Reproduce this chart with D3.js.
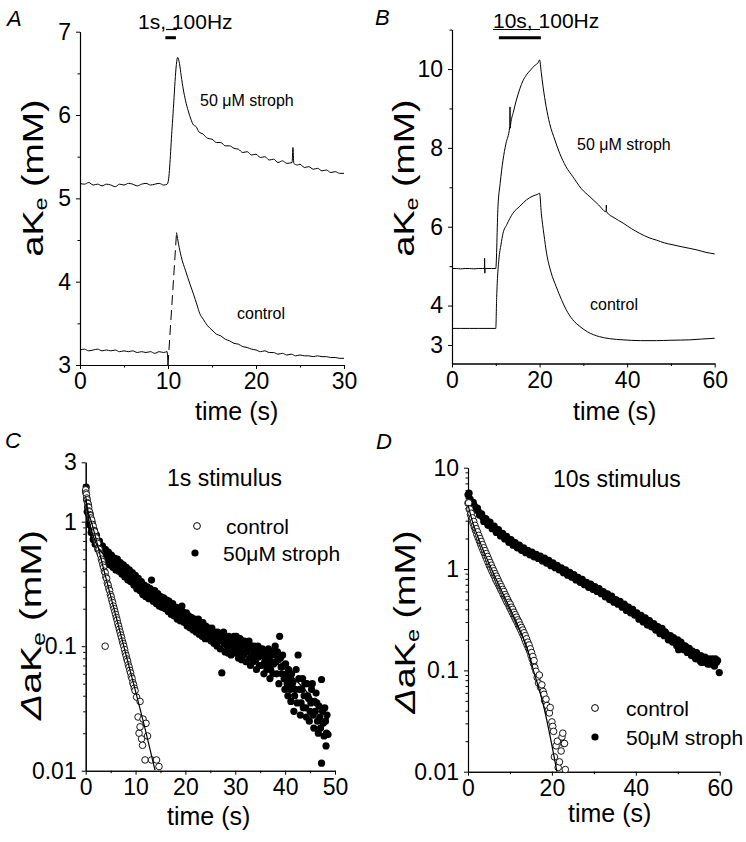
<!DOCTYPE html>
<html><head><meta charset="utf-8">
<script src="https://cdn.jsdelivr.net/npm/d3@7"></script>
<style>
body{margin:0;background:#fff}
svg{display:block}
text{font-family:"Liberation Sans",Arial,Helvetica,sans-serif;fill:#000}
</style>
</head><body>
<svg id="fig" width="746" height="842"></svg>
<script>
// ---------------- DATA ----------------
// Panel A: 1 s, 100 Hz stimulus (time s, aKe mM)
const aStroph = [[0,5.18],[0.5,5.17],[1,5.19],[1.5,5.16],[2,5.17],[2.5,5.15],[3,5.17],[3.5,5.16],[4,5.14],[4.5,5.17],[5,5.16],[5.5,5.18],[6,5.17],[6.5,5.15],[7,5.17],[7.5,5.18],[8,5.16],[8.5,5.17],[9,5.18],[9.5,5.16],[9.9,5.17],[10.05,5.22],[10.5,5.9],[11.1,6.69],[11.3,6.62],[11.5,6.47],[11.75,6.3],[12,6.17],[12.3,6.05],[12.6,5.95],[12.9,5.88],[13.2,5.86],[13.5,5.8],[14,5.77],[14.5,5.72],[15,5.71],[15.5,5.67],[16,5.67],[16.5,5.63],[17,5.63],[17.5,5.6],[18,5.59],[18.5,5.55],[19,5.56],[19.5,5.52],[20,5.53],[20.5,5.49],[21,5.5],[21.5,5.46],[22,5.47],[22.5,5.43],[23,5.45],[23.5,5.42],[24.1,5.43],[24.2,5.61],[24.3,5.42],[24.7,5.4],[25,5.41],[25.5,5.37],[26,5.38],[26.5,5.35],[27,5.36],[27.5,5.33],[28,5.34],[28.5,5.31],[29,5.32],[29.5,5.3],[30,5.3]];
const aControlBase = [[0,3.18],[0.5,3.19],[1,3.17],[1.5,3.18],[2,3.19],[2.5,3.17],[3,3.18],[3.5,3.17],[4,3.18],[4.5,3.16],[5,3.17],[5.5,3.16],[6,3.17],[6.5,3.15],[7,3.16],[7.5,3.15],[8,3.16],[8.5,3.14],[9,3.16],[9.5,3.15],[9.9,3.16],[10,3.0]];
const aControlRise = [[10,3.0],[10.97,4.59]];
const aControlDecay = [[10.97,4.59],[11.2,4.45],[11.5,4.3],[12,4.13],[12.5,3.97],[12.9,3.85],[13.3,3.72],[13.6,3.62],[14,3.55],[14.5,3.47],[15,3.42],[15.5,3.37],[16,3.35],[16.5,3.31],[17,3.29],[17.5,3.26],[18,3.25],[18.5,3.22],[19,3.21],[19.5,3.19],[20,3.18],[20.5,3.16],[21,3.17],[21.5,3.15],[22,3.15],[22.5,3.13],[23,3.14],[23.5,3.12],[24,3.13],[24.5,3.11],[25,3.12],[25.5,3.11],[26,3.11],[26.5,3.1],[27,3.11],[27.5,3.1],[28,3.1],[28.5,3.09],[29,3.09],[29.5,3.08],[30,3.08]];
const aStim = [9.7, 10.9];
const aYTicks = [3,4,5,6,7];
const aYMinor = [3.5,4.5,5.5,6.5];
const aXTicks = [0,10,20,30];
const aXMinor = [5,15,25];

// Panel B: 10 s, 100 Hz stimulus
const bStroph = [[0,4.94],[1,4.94],[2,4.93],[3,4.94],[4,4.94],[5,4.93],[6,4.94],[7,4.94],[7.4,4.94],[7.45,5.2],[7.5,4.82],[7.55,4.94],[8,4.94],[9,4.94],[10,4.94],[10.5,6.51],[11,7.1],[11.65,7.69],[12.3,8.1],[13.2,8.54],[13.25,9.04],[13.3,8.5],[13.4,8.6],[14,8.9],[14.7,9.21],[15.5,9.5],[16.2,9.7],[17,9.85],[18,9.98],[19,10.1],[19.6,10.15],[20,10.23],[20.4,9.9],[20.8,9.55],[21.5,9.05],[22.3,8.62],[23.5,8.2],[24.6,7.86],[26,7.53],[27.6,7.27],[29.5,6.97],[31.5,6.76],[33.5,6.55],[35.2,6.38],[35.25,6.55],[35.3,6.38],[37,6.23],[39.1,6.09],[41,5.95],[42.9,5.83],[45,5.72],[46.7,5.66],[48.5,5.59],[50.5,5.54],[52.5,5.49],[54.3,5.45],[56,5.41],[58,5.35],[60,5.31]];
const bControl = [[0,3.42],[2,3.42],[4,3.42],[6,3.42],[8,3.42],[10,3.42],[10.2,4.2],[10.7,5.16],[11.2,5.55],[11.65,5.83],[12.5,6.05],[13.9,6.34],[15.5,6.52],[17,6.68],[18.5,6.78],[19.5,6.82],[20,6.85],[20.4,6.34],[21,5.8],[21.6,5.33],[22.6,4.85],[23.8,4.48],[25,4.15],[26.1,3.89],[27.5,3.65],[29.2,3.47],[31,3.33],[33.7,3.21],[36,3.16],[39.1,3.13],[43,3.11],[46.7,3.11],[50,3.12],[54.3,3.13],[57,3.15],[60,3.17]];
const bStim = [10.7, 20.3];
const bYTicks = [3,4,6,8,10];
const bYMinor = [5,7,9,11];
const bXTicks = [0,20,40,60];
const bXMinor = [10,30,50];

// Panel C: decay after 1 s stimulus (time s, delta aKe mM, log)
const cControl = [[0,1.8],[0.07,1.7],[0.15,1.65],[0.22,1.55],[0.3,1.5],[0.37,1.42],[0.45,1.4],[0.52,1.32],[0.6,1.3],[0.67,1.22],[0.75,1.2],[0.82,1.14],[0.9,1.12],[0.97,1.06],[1.05,1.07],[1.2,1.03],[1.35,0.95],[1.5,0.92],[1.65,0.85],[1.8,0.83],[1.95,0.76],[2.1,0.74],[2.25,0.69],[2.4,0.67],[2.55,0.61],[2.7,0.6],[2.85,0.56],[3.0,0.54],[3.15,0.5],[3.3,0.48],[3.45,0.45],[3.6,0.43],[3.75,0.4],[3.9,0.39],[3.9,0.1],[4.05,0.36],[4.2,0.35],[4.35,0.32],[4.5,0.31],[4.65,0.29],[4.8,0.28],[4.95,0.26],[5.1,0.25],[5.25,0.235],[5.4,0.224],[5.55,0.21],[5.7,0.2],[5.85,0.19],[6.0,0.18],[6.15,0.17],[6.3,0.162],[6.45,0.152],[6.6,0.145],[6.75,0.137],[6.9,0.13],[7.05,0.123],[7.2,0.117],[7.35,0.11],[7.5,0.105],[7.65,0.1],[7.8,0.094],[7.95,0.088],[8.1,0.084],[8.25,0.079],[8.4,0.076],[8.55,0.071],[8.7,0.068],[8.85,0.064],[9.0,0.061],[9.15,0.057],[9.3,0.055],[9.45,0.051],[9.6,0.049],[9.75,0.046],[9.9,0.044],[10.2,0.039],[10.5,0.027],[10.7,0.02],[10.9,0.036],[10.9,0.0225],[11.2,0.018],[11.4,0.016],[11.5,0.026],[12.1,0.024],[11.9,0.0122],[12.4,0.019],[13.2,0.0122],[14.2,0.0122],[14.7,0.0108]];
const cControlFit = [[0,1.6],[0.4,1.25],[1.2,0.98],[4,0.36],[8,0.088],[12,0.021],[13.9,0.0101]];
const cStroph = [[0,1.75],[0.1,1.9],[0.2,1.5],[0.3,1.2],[0.4,1.3],[0.5,1.35],[0.6,1.15],[0.7,0.95],[0.8,1.05],[0.9,1.15],[1,0.95],[1.1,0.82],[1.2,0.88],[1.3,0.98],[1.4,0.82],[1.5,0.72],[1.6,0.77],[1.7,0.86],[1.8,0.73],[1.9,0.66],[2,0.7],[2.15,0.78],[2.3,0.66],[2.45,0.6],[2.6,0.63],[2.75,0.7],[2.9,0.6],[3.05,0.54],[3.2,0.58],[3.35,0.64],[3.5,0.56],[3.65,0.5],[3.8,0.55],[3.95,0.6],[4.1,0.53],[4.25,0.48],[4.4,0.52],[4.55,0.57],[4.7,0.5],[4.85,0.45],[5,0.49],[5.15,0.54],[5.3,0.48],[5.45,0.43],[5.6,0.47],[5.75,0.51],[5.9,0.46],[6.05,0.41],[6.2,0.46],[6.35,0.5],[6.5,0.44],[6.65,0.4],[6.8,0.44],[6.95,0.47],[7.1,0.43],[7.25,0.38],[7.4,0.41],[7.55,0.45],[7.7,0.42],[7.85,0.36],[8,0.39],[8.15,0.43],[8.3,0.4],[8.45,0.34],[8.6,0.37],[8.75,0.41],[8.9,0.38],[9.05,0.33],[9.2,0.36],[9.35,0.39],[9.5,0.35],[9.65,0.31],[9.8,0.35],[9.95,0.37],[10.1,0.33],[10.25,0.29],[10.4,0.32],[10.55,0.35],[10.7,0.33],[10.85,0.28],[11,0.3],[11.15,0.33],[11.3,0.31],[11.45,0.26],[11.6,0.29],[11.75,0.31],[11.9,0.3],[12.05,0.25],[12.2,0.28],[12.35,0.3],[12.5,0.27],[12.65,0.24],[12.8,0.28],[12.95,0.29],[13.2,0.34],[13.4,0.26],[13.55,0.23],[13.7,0.27],[13.85,0.28],[14,0.25],[14.15,0.22],[14.3,0.24],[14.45,0.265],[14.6,0.25],[14.75,0.21],[14.9,0.235],[15.05,0.25],[15.2,0.23],[15.35,0.205],[15.5,0.24],[15.65,0.245],[15.8,0.22],[15.95,0.2],[16.1,0.22],[16.25,0.235],[16.4,0.21],[16.55,0.19],[16.7,0.23],[16.85,0.215],[17,0.2],[17.15,0.18],[17.3,0.21],[17.45,0.22],[17.6,0.2],[17.75,0.175],[17.9,0.19],[18.05,0.2],[18.2,0.205],[18.35,0.165],[18.5,0.185],[18.65,0.2],[18.8,0.19],[18.95,0.16],[19.1,0.175],[19.3,0.21],[19.45,0.19],[19.6,0.18],[19.75,0.155],[19.9,0.17],[20.05,0.18],[20.2,0.185],[20.35,0.145],[20.5,0.16],[20.65,0.175],[20.8,0.17],[20.95,0.14],[21.1,0.155],[21.25,0.17],[21.4,0.165],[21.55,0.135],[21.7,0.15],[21.85,0.165],[22,0.16],[22.15,0.13],[22.3,0.145],[22.45,0.155],[22.6,0.165],[22.75,0.125],[22.9,0.15],[23.05,0.155],[23.2,0.14],[23.35,0.12],[23.5,0.155],[23.65,0.145],[23.8,0.135],[23.95,0.115],[24.1,0.145],[24.25,0.14],[24.4,0.13],[24.55,0.115],[24.7,0.14],[24.85,0.13],[25,0.125],[25.15,0.11],[25.3,0.14],[25.45,0.13],[25.6,0.12],[25.75,0.105],[25.9,0.13],[26.05,0.125],[26.2,0.115],[26.35,0.1],[26.5,0.13],[26.65,0.12],[26.8,0.11],[27,0.095],[27.3,0.061],[27.5,0.12],[27.65,0.13],[27.8,0.105],[27.95,0.09],[28.1,0.115],[28.25,0.12],[28.4,0.1],[28.55,0.088],[28.7,0.12],[28.85,0.11],[29,0.105],[29.15,0.085],[29.3,0.095],[29.45,0.105],[29.6,0.115],[29.75,0.12],[29.9,0.1],[30.05,0.088],[30.2,0.12],[30.35,0.108],[30.5,0.095],[30.65,0.08],[30.8,0.105],[30.95,0.115],[31.1,0.09],[31.25,0.078],[31.4,0.11],[31.55,0.1],[31.7,0.085],[31.85,0.11],[32,0.1],[32.15,0.075],[32.3,0.09],[32.45,0.095],[32.6,0.105],[32.75,0.11],[32.9,0.08],[33.05,0.07],[33.2,0.095],[33.35,0.1],[33.5,0.085],[33.65,0.075],[33.8,0.1],[33.95,0.09],[34.1,0.078],[34.25,0.065],[34.4,0.09],[34.55,0.1],[34.7,0.082],[34.85,0.07],[35,0.095],[35.15,0.085],[35.3,0.07],[35.45,0.095],[35.6,0.088],[35.75,0.06],[35.9,0.075],[36.05,0.08],[36.2,0.092],[36.35,0.065],[36.5,0.07],[36.65,0.095],[36.8,0.083],[36.95,0.055],[37.1,0.065],[37.25,0.075],[37.4,0.09],[37.55,0.06],[37.7,0.072],[37.85,0.085],[38,0.1],[38.15,0.075],[38.3,0.06],[38.45,0.09],[38.6,0.078],[38.75,0.05],[38.9,0.12],[39.05,0.08],[39.2,0.068],[39.35,0.06],[39.5,0.085],[39.65,0.07],[39.8,0.055],[39.95,0.045],[40.1,0.072],[40.25,0.06],[40.4,0.05],[40.55,0.04],[40.7,0.065],[40.85,0.055],[41,0.045],[41.15,0.036],[41.3,0.06],[41.45,0.05],[41.6,0.052],[41.75,0.03],[41.9,0.04],[42.05,0.045],[42.2,0.065],[42.4,0.035],[42.6,0.085],[42.75,0.055],[42.9,0.045],[43.05,0.028],[43.2,0.035],[43.35,0.045],[43.5,0.055],[43.65,0.032],[43.8,0.04],[43.95,0.05],[44.1,0.032],[44.25,0.027],[44.4,0.05],[44.55,0.04],[44.7,0.038],[44.85,0.025],[45,0.03],[45.15,0.035],[45.3,0.045],[45.45,0.05],[45.6,0.028],[45.75,0.022],[45.9,0.036],[46.05,0.03],[46.2,0.042],[46.35,0.035],[46.5,0.025],[46.65,0.02],[46.8,0.033],[46.95,0.027],[47.1,0.022],[47.3,0.054],[47.5,0.03],[47.65,0.024],[47.8,0.019],[47.95,0.032],[48.1,0.025],[48.2,0.0158],[47.3,0.0115],[48.3,0.02],[48.6,0.0195],[48.4,0.028]];
const cStrophFit = [[0,1.5],[0.5,1.1],[1,0.9],[2,0.68],[3,0.58],[5,0.48],[8,0.39],[11,0.31],[15,0.235],[20,0.18],[25,0.14],[30,0.11],[36.3,0.085],[40,0.065],[45,0.04],[48.7,0.026]];
const cYTicks = [0.01,0.1,1,3];
const cYMinor = [0.02,0.03,0.04,0.05,0.06,0.07,0.08,0.09,0.2,0.3,0.4,0.5,0.6,0.7,0.8,0.9,2];
const cXTicks = [0,10,20,30,40,50];
const cXMinor = [5,15,25,35,45];

// Panel D: decay after 10 s stimulus
const dControl = [[0,4.47],[0.15,4.5],[0.3,3.9],[0.45,3.9],[0.6,3.45],[0.75,3.55],[0.9,3.1],[1.05,3.2],[1.2,2.84],[1.35,2.95],[1.5,2.6],[1.65,2.7],[1.8,2.4],[1.95,2.5],[2.1,2.2],[2.25,2.33],[2.4,2.05],[2.55,2.15],[2.7,1.9],[2.85,2.0],[3,1.76],[3.15,1.87],[3.3,1.64],[3.45,1.74],[3.6,1.53],[3.75,1.62],[3.9,1.43],[4.05,1.52],[4.2,1.33],[4.35,1.42],[4.5,1.25],[4.65,1.33],[4.8,1.16],[4.95,1.24],[5.1,1.08],[5.25,1.16],[5.4,1.02],[5.55,1.09],[5.7,0.955],[5.85,1.02],[6,0.9],[6.15,0.96],[6.3,0.85],[6.45,0.9],[6.6,0.79],[6.75,0.85],[6.9,0.75],[7.05,0.8],[7.2,0.71],[7.35,0.75],[7.5,0.67],[7.65,0.71],[7.8,0.63],[7.95,0.67],[8.1,0.6],[8.25,0.63],[8.4,0.56],[8.55,0.6],[8.7,0.53],[8.85,0.56],[9,0.5],[9.15,0.53],[9.3,0.47],[9.45,0.5],[9.6,0.45],[9.75,0.47],[9.9,0.42],[10.05,0.45],[10.2,0.4],[10.35,0.42],[10.5,0.376],[10.65,0.4],[10.8,0.355],[10.95,0.375],[11.1,0.335],[11.25,0.355],[11.4,0.316],[11.55,0.335],[11.7,0.3],[11.85,0.315],[12,0.28],[12.15,0.3],[12.3,0.266],[12.45,0.28],[12.6,0.25],[12.75,0.265],[12.9,0.234],[13.05,0.25],[13.2,0.22],[13.35,0.235],[13.5,0.204],[13.65,0.22],[13.8,0.19],[13.95,0.205],[14.1,0.178],[14.25,0.19],[14.4,0.166],[14.55,0.178],[14.7,0.155],[14.85,0.163],[15,0.141],[15.15,0.15],[15.3,0.129],[15.45,0.137],[15.6,0.117],[15.75,0.125],[15.9,0.107],[16.2,0.098],[16.5,0.085],[16.8,0.075],[17,0.09],[17.3,0.068],[17.6,0.072],[17.9,0.062],[18.1,0.058],[18.3,0.05],[18.6,0.052],[18.8,0.045],[19.1,0.04],[19.4,0.038],[19.6,0.043],[20,0.031],[20.2,0.028],[20.4,0.025],[20.6,0.014],[21,0.018],[21.3,0.02],[21.5,0.011],[21.8,0.0125],[22.2,0.016],[22.4,0.022],[22.6,0.024],[22.8,0.019],[23,0.019],[23.2,0.0105]];
const dControlFit = [[0,4.3],[1,3.0],[3,1.78],[6,0.92],[9,0.5],[12,0.27],[14,0.17],[15.6,0.1],[18,0.045],[21.2,0.01]];
const dStroph = [[0,5.4],[0.25,5.6],[0.5,4.9],[0.75,4.5],[1,4.5],[1.25,4.55],[1.5,4.2],[1.75,3.85],[2,3.95],[2.25,4.0],[2.5,3.7],[2.75,3.4],[3,3.45],[3.25,3.5],[3.5,3.25],[3.75,2.95],[4,3.05],[4.25,3.15],[4.5,2.95],[4.75,2.7],[5,2.8],[5.25,2.9],[5.5,2.7],[5.75,2.5],[6,2.55],[6.25,2.65],[6.5,2.45],[6.75,2.3],[7,2.35],[7.25,2.45],[7.5,2.25],[7.75,2.12],[8,2.18],[8.25,2.25],[8.5,2.1],[8.75,1.98],[9,2.02],[9.25,2.1],[9.5,1.95],[9.75,1.83],[10,1.88],[10.25,1.95],[10.5,1.82],[10.75,1.72],[11,1.77],[11.25,1.82],[11.5,1.7],[11.75,1.62],[12,1.65],[12.25,1.72],[12.5,1.62],[12.75,1.53],[13,1.57],[13.25,1.62],[13.5,1.52],[13.75,1.45],[14,1.48],[14.25,1.53],[14.5,1.46],[14.75,1.38],[15,1.42],[15.25,1.47],[15.5,1.38],[15.75,1.32],[16,1.36],[16.25,1.4],[16.5,1.33],[16.75,1.27],[17,1.3],[17.25,1.34],[17.5,1.26],[17.75,1.2],[18,1.24],[18.25,1.28],[18.5,1.2],[18.75,1.14],[19,1.18],[19.25,1.22],[19.5,1.14],[19.75,1.08],[20,1.12],[20.25,1.15],[20.5,1.08],[20.75,1.03],[21,1.05],[21.25,1.09],[21.5,1.03],[21.75,0.98],[22,1.0],[22.25,1.03],[22.5,0.97],[22.75,0.92],[23,0.95],[23.25,0.98],[23.5,0.92],[23.75,0.87],[24,0.9],[24.25,0.93],[24.5,0.88],[24.75,0.83],[25,0.85],[25.25,0.88],[25.5,0.82],[25.75,0.78],[26,0.8],[26.25,0.83],[26.5,0.77],[26.75,0.74],[27,0.76],[27.25,0.79],[27.5,0.73],[27.75,0.7],[28,0.71],[28.25,0.74],[28.5,0.69],[28.75,0.66],[29,0.68],[29.25,0.71],[29.5,0.66],[29.75,0.63],[30,0.65],[30.25,0.67],[30.5,0.62],[30.75,0.6],[31,0.62],[31.25,0.64],[31.5,0.6],[31.75,0.57],[32,0.58],[32.25,0.6],[32.5,0.56],[32.75,0.53],[33,0.55],[33.25,0.57],[33.5,0.53],[33.75,0.5],[34,0.52],[34.25,0.54],[34.5,0.5],[34.75,0.47],[35,0.48],[35.25,0.5],[35.5,0.47],[35.75,0.45],[36,0.46],[36.25,0.48],[36.5,0.45],[36.75,0.42],[37,0.43],[37.25,0.45],[37.5,0.43],[37.75,0.39],[38,0.41],[38.25,0.42],[38.5,0.4],[38.75,0.37],[39,0.39],[39.25,0.4],[39.5,0.37],[39.75,0.35],[40,0.36],[40.25,0.37],[40.5,0.35],[40.75,0.32],[41,0.34],[41.25,0.35],[41.5,0.33],[41.75,0.3],[42,0.31],[42.25,0.33],[42.5,0.31],[42.75,0.28],[43,0.3],[43.25,0.31],[43.5,0.29],[43.75,0.27],[44,0.27],[44.25,0.29],[44.5,0.28],[44.75,0.25],[45,0.26],[45.25,0.27],[45.5,0.25],[45.75,0.23],[46,0.25],[46.25,0.26],[46.5,0.23],[46.75,0.22],[47,0.24],[47.25,0.23],[47.5,0.22],[47.75,0.2],[48,0.215],[48.25,0.22],[48.5,0.2],[48.75,0.19],[49,0.21],[49.25,0.2],[49.5,0.19],[49.75,0.175],[50,0.2],[50.2,0.16],[50.5,0.175],[50.75,0.19],[51,0.18],[51.25,0.165],[51.5,0.16],[51.75,0.175],[52,0.17],[52.25,0.15],[52.5,0.16],[52.75,0.165],[53,0.15],[53.25,0.14],[53.5,0.155],[53.75,0.15],[54,0.14],[54.25,0.13],[54.5,0.15],[54.75,0.14],[55,0.13],[55.25,0.125],[55.5,0.14],[55.6,0.12],[55.75,0.13],[56,0.125],[56.25,0.12],[56.5,0.135],[56.75,0.125],[57,0.12],[57.2,0.115],[57.5,0.13],[57.75,0.115],[58,0.125],[58.25,0.13],[58.5,0.12],[58.75,0.11],[59,0.13],[59.25,0.12],[59.5,0.125],[59.9,0.095]];
const dYTicks = [0.01,0.1,1,10];
const dYMinor = [0.02,0.03,0.04,0.05,0.06,0.07,0.08,0.09,0.2,0.3,0.4,0.5,0.6,0.7,0.8,0.9,2,3,4,5,6,7,8,9];
const dXTicks = [0,20,40,60];
const dXMinor = [10,30,50];

// ---------------- DRAWING ----------------
const svg = d3.select('#fig');
const TICKFONT = 23;

function drawAxes(x, y, o) {
  const g = svg.append('g');
  const left = x.range()[0], bottom = y.range()[0];
  g.append('g').attr('transform', `translate(${left},0)`)
    .call(d3.axisLeft(y).tickValues(o.yMinor).tickSize(2.5).tickSizeOuter(0).tickFormat(''));
  g.append('g').attr('transform', `translate(0,${bottom})`)
    .call(d3.axisBottom(x).tickValues(o.xMinor).tickSize(2.5).tickSizeOuter(0).tickFormat(''));
  g.append('g').attr('transform', `translate(${left},0)`)
    .call(d3.axisLeft(y).tickValues(o.yTicks).tickSize(4).tickSizeOuter(0).tickPadding(5).tickFormat(o.yFmt || d3.format('')));
  g.append('g').attr('transform', `translate(0,${bottom})`)
    .call(d3.axisBottom(x).tickValues(o.xTicks).tickSize(4).tickSizeOuter(0).tickPadding(4).tickFormat(d3.format('')));
  g.selectAll('.domain').attr('stroke', '#000').attr('stroke-width', 1.1);
  g.selectAll('.tick line').attr('stroke', '#000').attr('stroke-width', 1);
  g.selectAll('.tick text').attr('font-size', TICKFONT).attr('font-family', '"Liberation Sans",Arial,sans-serif').attr('fill', '#000');
}

function yTitle(cx, cy, len, delta) {
  const t = svg.append('text')
    .attr('transform', `translate(${cx},${cy}) rotate(-90)`)
    .attr('text-anchor', 'middle').attr('dominant-baseline', 'central')
    .attr('font-size', 29)
    .attr('textLength', len).attr('lengthAdjust', 'spacingAndGlyphs');
  if (delta) t.append('tspan').attr('font-style', 'italic').text('\u0394');
  t.append('tspan').text('aK');
  t.append('tspan').attr('font-size', 18).attr('dy', 8).text('e');
  t.append('tspan').attr('dy', -8).text(' (mM)');
}

function xTitle(x0, yb) {
  svg.append('text').attr('x', x0).attr('y', yb).attr('font-size', 25).text('time (s)');
}

function panelLetter(l, x0, yb) {
  svg.append('text').attr('x', x0).attr('y', yb).attr('font-size', 22).attr('font-style', 'italic').text(l);
}

const lineGen = (x, y, curve) => d3.line().x(d => x(d[0])).y(d => y(d[1])).curve(curve || d3.curveLinear);
function trace(data, x, y, dash) {
  const p = svg.append('path').datum(data)
    .attr('d', lineGen(x, y, d3.curveMonotoneX)).attr('fill', 'none').attr('stroke', '#000').attr('stroke-width', 1);
  if (dash) p.attr('stroke-dasharray', dash);
}

// ---- Panel A ----
{
  const x = d3.scaleLinear().domain([0, 30]).range([80, 344]);
  const y = d3.scaleLinear().domain([3, 7]).range([365, 31.7]);
  drawAxes(x, y, {yTicks: aYTicks, yMinor: aYMinor, xTicks: aXTicks, xMinor: aXMinor});
  trace(aStroph, x, y);
  trace(aControlBase, x, y);
  trace(aControlRise, x, y, '10,5');
  trace(aControlDecay, x, y);
  svg.append('line').attr('x1', x(aStim[0])).attr('x2', x(aStim[1])).attr('y1', 37.7).attr('y2', 37.7)
    .attr('stroke', '#000').attr('stroke-width', 3);
  svg.append('line').attr('x1', 166).attr('x2', 177).attr('y1', 29.5).attr('y2', 29.5)
    .attr('stroke', '#000').attr('stroke-width', 1.2);
  svg.append('text').attr('x', 138).attr('y', 29).attr('font-size', 21).text('1s, 100Hz');
  svg.append('text').attr('x', 200).attr('y', 106).attr('font-size', 16).text('50 \u03bcM stroph');
  svg.append('text').attr('x', 237).attr('y', 319).attr('font-size', 16).text('control');
  yTitle(33, 178, 157, false);
  xTitle(195, 420);
  panelLetter('A', 7, 26);
}

// ---- Panel B ----
{
  const x = d3.scaleLinear().domain([0, 60]).range([452, 714.7]);
  const y = d3.scaleLinear().domain([2.53, 11]).range([363.5, 29.6]);
  drawAxes(x, y, {yTicks: bYTicks, yMinor: bYMinor, xTicks: bXTicks, xMinor: bXMinor});
  trace(bStroph, x, y);
  trace(bControl, x, y);
  svg.append('line').attr('x1', x(bStim[0])).attr('x2', x(bStim[1])).attr('y1', 37.7).attr('y2', 37.7)
    .attr('stroke', '#000').attr('stroke-width', 3);
  svg.append('line').attr('x1', 493).attr('x2', 540).attr('y1', 29.5).attr('y2', 29.5)
    .attr('stroke', '#000').attr('stroke-width', 1.2);
  svg.append('text').attr('x', 493).attr('y', 28).attr('font-size', 21).text('10s, 100Hz');
  svg.append('text').attr('x', 577).attr('y', 150).attr('font-size', 16).text('50 \u03bcM stroph');
  svg.append('text').attr('x', 590).attr('y', 310).attr('font-size', 16).text('control');
  yTitle(404, 178, 157, false);
  xTitle(573, 420);
  panelLetter('B', 375, 25);
}

// ---- Panel C ----
{
  const x = d3.scaleLinear().domain([0, 50]).range([85.7, 335]);
  const y = d3.scaleLog().domain([0.01, 3]).range([770.7, 462.3]);
  drawAxes(x, y, {yTicks: cYTicks, yMinor: cYMinor, xTicks: cXTicks, xMinor: cXMinor, yFmt: d => String(d)});
  svg.append('g').selectAll('circle').data(cStroph).join('circle')
    .attr('cx', d => x(d[0])).attr('cy', d => y(d[1])).attr('r', 3.6).attr('fill', '#000');
  svg.append('g').selectAll('circle').data(cControl).join('circle')
    .attr('cx', d => x(d[0])).attr('cy', d => y(d[1])).attr('r', 3.3).attr('fill', '#fff').attr('stroke', '#000').attr('stroke-width', 0.9);
  [cControlFit, cStrophFit].forEach(s => svg.append('path').datum(s)
    .attr('d', lineGen(x, y, d3.curveMonotoneX)).attr('fill', 'none').attr('stroke', '#000').attr('stroke-width', 1.2));
  svg.append('text').attr('x', 167).attr('y', 486).attr('font-size', 23).text('1s stimulus');
  svg.append('circle').attr('cx', 197).attr('cy', 526).attr('r', 3.4).attr('fill', '#fff').attr('stroke', '#000');
  svg.append('circle').attr('cx', 195).attr('cy', 553).attr('r', 3.6).attr('fill', '#000');
  svg.append('text').attr('x', 226).attr('y', 534).attr('font-size', 21).text('control');
  svg.append('text').attr('x', 223).attr('y', 561).attr('font-size', 21).text('50\u03bcM stroph');
  yTitle(31, 625, 190, true);
  xTitle(167, 825);
  panelLetter('C', 5, 448);
}

// ---- Panel D ----
{
  const x = d3.scaleLinear().domain([0, 60]).range([468, 719.7]);
  const y = d3.scaleLog().domain([0.01, 10]).range([771.7, 467.7]);
  drawAxes(x, y, {yTicks: dYTicks, yMinor: dYMinor, xTicks: dXTicks, xMinor: dXMinor, yFmt: d => String(d)});
  svg.append('g').selectAll('circle').data(dStroph).join('circle')
    .attr('cx', d => x(d[0])).attr('cy', d => y(d[1])).attr('r', 3.6).attr('fill', '#000');
  svg.append('g').selectAll('circle').data(dControl).join('circle')
    .attr('cx', d => x(d[0])).attr('cy', d => y(d[1])).attr('r', 3.3).attr('fill', '#fff').attr('stroke', '#000').attr('stroke-width', 0.9);
  svg.append('path').datum(dControlFit)
    .attr('d', lineGen(x, y, d3.curveMonotoneX)).attr('fill', 'none').attr('stroke', '#000').attr('stroke-width', 1.2);
  svg.append('text').attr('x', 553).attr('y', 487).attr('font-size', 23).text('10s stimulus');
  svg.append('circle').attr('cx', 595).attr('cy', 708).attr('r', 3.4).attr('fill', '#fff').attr('stroke', '#000');
  svg.append('circle').attr('cx', 595).attr('cy', 737).attr('r', 3.6).attr('fill', '#000');
  svg.append('text').attr('x', 626).attr('y', 716).attr('font-size', 21).text('control');
  svg.append('text').attr('x', 626).attr('y', 745).attr('font-size', 21).text('50\u03bcM stroph');
  yTitle(405, 622, 183, true);
  xTitle(568, 822);
  panelLetter('D', 376, 449);
}
</script>
</body></html>
